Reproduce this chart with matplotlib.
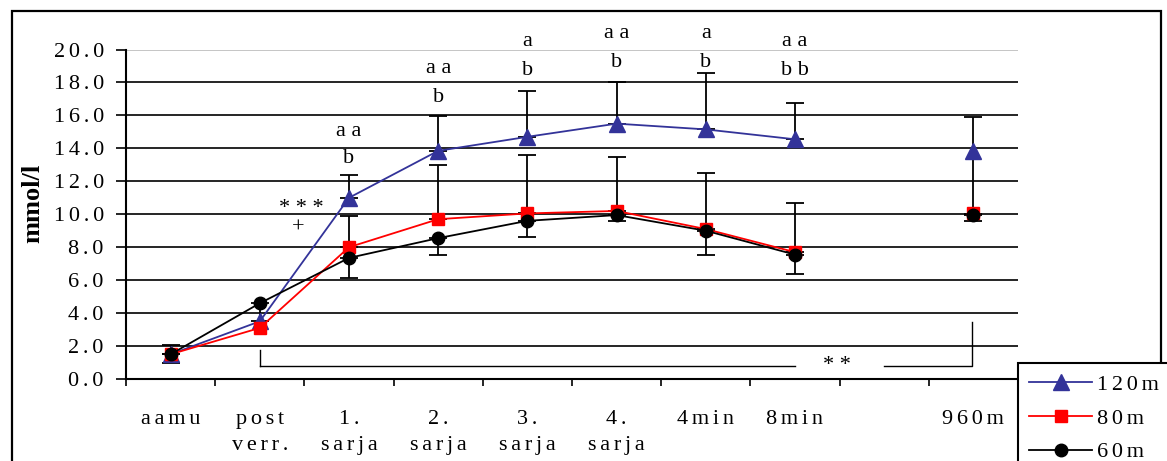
import matplotlib.pyplot as plt
import matplotlib.patches as mpatches
import numpy as np

plt.rcParams['font.family'] = ['Liberation Serif', 'DejaVu Serif']

# tick labels, one per category (slot 8 is left empty)
cats = ['aamu', 'post\nverr.', '1.\nsarja', '2.\nsarja', '3.\nsarja',
        '4.\nsarja', '4min', '8min', '', '960m']

# lactate, mmol/l
m120 = [1.5, 3.5, 11.0, 13.85, 14.7, 15.5, 15.15, 14.55, np.nan, 13.85]
m80 = [1.5, 3.1, 8.0, 9.7, 10.05, 10.2, 9.1, 7.7, np.nan, 10.05]
m60 = [1.5, 4.6, 7.35, 8.55, 9.6, 9.95, 9.0, 7.55, np.nan, 9.95]

# one-sided deviations
sd120_up = [0.55, 0, 1.4, 2.1, 2.8, 2.5, 3.4, 2.2, 0, 2.05]
sd120_dn = [0, 0, 0, 0, 0, 0, 0, 0, 0, 3.85]
sd80_up = [0, 0, 1.9, 3.3, 3.55, 3.3, 3.4, 3.0, 0, 0]
sd60_dn = [0.55, 1.1, 1.2, 1.05, 1.0, 0.35, 1.5, 1.15, 0, 0.35]

# significance marks: (x, y, text)
sig = [(2, 15.0, 'a a'), (2, 13.4, 'b'),
       (3, 18.85, 'a a'), (3, 17.1, 'b'),
       (4, 20.5, 'a'), (4, 18.7, 'b'),
       (5, 21.0, 'a a'), (5, 19.2, 'b'),
       (6, 21.0, 'a'), (6, 19.2, 'b'),
       (7, 20.5, 'a a'), (7, 18.7, 'b b'),
       (1.47, 10.35, '* * *'), (1.43, 9.15, '+'),
       (7.47, 0.8, '* *')]

GAP = '\u2006'


def spaced(s):
    return '\n'.join(GAP.join(line) for line in s.split('\n'))


x = np.arange(len(cats))
fs = 16

fig = plt.figure(figsize=(11.67, 4.61), dpi=100)
ax = fig.add_axes([126 / 1167, 1 - 379 / 461, 892 / 1167, 329.5 / 461])

# outer frame
fig.patches.append(mpatches.Rectangle((12 / 1167, -0.2), 1149 / 1167, 1.2 - 11 / 461,
                                      transform=fig.transFigure, fill=False,
                                      edgecolor='black', lw=1.6, zorder=0))

ax.set_xlim(-0.5, 9.5)
ax.set_ylim(0, 20)
yt = np.arange(0, 21, 2)
for v in yt[1:]:
    ax.axhline(v, color='#bbbbbb' if v == 20 else 'black', lw=1.2, zorder=1)


def err(y, lo, hi):
    y = np.asarray(y, float)
    lo = np.asarray(lo, float)
    hi = np.asarray(hi, float)
    k = (lo + hi) > 0
    ax.errorbar(x[k], y[k], yerr=[lo[k], hi[k]], fmt='none', ecolor='black',
                elinewidth=1.3, capsize=6.5, capthick=1.3, zorder=2.5)


err(m120, sd120_dn, sd120_up)
err(m80, np.zeros(len(x)), sd80_up)
err(m60, sd60_dn, np.zeros(len(x)))

ax.plot(x, m120, color='#333399', lw=1.3, marker='^', ms=11, mec='#333399',
        label=spaced('120m'), zorder=3)
ax.plot(x, m80, color='#ff0000', lw=1.3, marker='s', ms=8.5, mec='#ff0000',
        label=spaced('80m'), zorder=3.1)
ax.plot(x, m60, color='black', lw=1.3, marker='o', ms=9, label=spaced('60m'),
        zorder=3.2)

for xs, ys, t in sig:
    ax.text(xs, ys, t, ha='center', va='center', fontsize=16, clip_on=False)

# bracket along the bottom
ax.plot([1, 1], [1.75, 0.8], color='black', lw=1.0, zorder=2)
ax.plot([1, 7], [0.8, 0.8], color='black', lw=1.0, zorder=2)
ax.plot([8, 8.98, 8.98], [0.8, 0.8, 3.45], color='black', lw=1.0, zorder=2)

ax.set_yticks(yt)
ax.set_yticklabels([spaced('%.1f' % v) for v in yt], fontsize=fs)
ax.set_xticks(np.arange(-0.5, 10, 1))
ax.set_xticklabels([])
ax.set_xticks(x, minor=True)
ax.set_xticklabels([spaced(c) for c in cats], minor=True, fontsize=fs,
                   linespacing=1.5)
ax.tick_params(axis='y', direction='out', length=7, width=1.2, pad=9)
ax.tick_params(axis='x', which='major', direction='out', length=5, width=1.2)
ax.tick_params(axis='x', which='minor', length=0, pad=22)

for s in ['top', 'right']:
    ax.spines[s].set_visible(False)
for s in ['left', 'bottom']:
    ax.spines[s].set_linewidth(1.5)
ax.set_ylabel('mmol/l', fontsize=19, fontweight='bold')
ax.yaxis.set_label_coords(-0.092, 0.534)

leg = fig.legend(loc='upper left', bbox_to_anchor=(1018 / 1167, 1 - 363 / 461),
                 borderaxespad=0, fontsize=16, handlelength=2.85,
                 handletextpad=0.2, labelspacing=0.6, borderpad=0.5,
                 fancybox=False, framealpha=1, edgecolor='black')
leg.get_frame().set_linewidth(1.5)
leg.set_zorder(10)

fig.savefig('out.png', dpi=100)
